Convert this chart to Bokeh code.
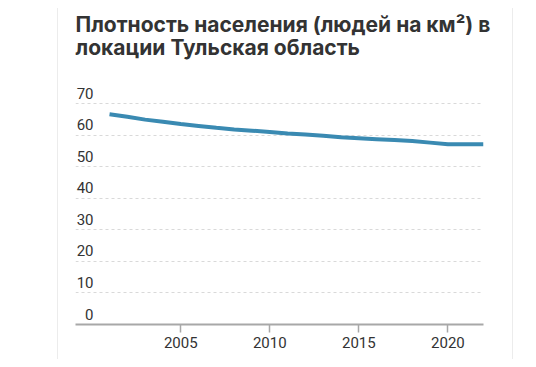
from bokeh.plotting import figure
from bokeh.models import FixedTicker, Range1d, Title
from bokeh.core.properties import value
from bokeh.embed import file_html
from bokeh.resources import INLINE

title_lines = ["Плотность населения (людей на км²) в", "локации Тульская область"]
years = list(range(2001, 2023))
density = [66.7, 65.9, 65.0, 64.3, 63.6, 63.0, 62.4, 61.9, 61.5, 61.1, 60.6,
           60.3, 59.9, 59.4, 59.1, 58.8, 58.5, 58.2, 57.7, 57.2, 57.2, 57.2]
y_ticks = [0, 10, 20, 30, 40, 50, 60, 70]
y_tick_labels = ["0", "10", "20", "30", "40", "50", "60", "70"]
x_ticks = [2005, 2010, 2015, 2020]

x_start, x_end = 1999.09, 2022.0

p = figure(width=456, height=351, output_backend="svg", toolbar_location=None,
           title=None,
           x_range=Range1d(x_start, x_end), y_range=Range1d(0, 85.66),
           min_border_left=17, min_border_right=31, min_border_bottom=35,
           min_border_top=0)
p.margin = (8, 0, 0, 57)
p.styles = {"border-left": "1px solid #ececec", "border-right": "1px solid #ececec"}
p.background_fill_color = "white"
p.border_fill_color = "white"
p.outline_line_color = None

title_standoffs = [2.6, -10.6]
for line, so in zip(reversed(title_lines), reversed(title_standoffs)):
    p.add_layout(Title(text=line, text_font="Inter", text_font_size="21px",
                       text_font_style="bold", text_color="#333333",
                       align="left", standoff=so), "above")

p.xgrid.visible = False
p.ygrid.ticker = FixedTicker(ticks=y_ticks)
p.ygrid.grid_line_color = "#d9d9d9"
p.ygrid.grid_line_dash = "3 3"
p.ygrid.grid_line_width = 1

p.yaxis.visible = False

p.xaxis.ticker = FixedTicker(ticks=x_ticks)
p.xaxis.axis_line_color = "#a8a8a8"
p.xaxis.axis_line_width = 2
p.xaxis.major_tick_line_color = "#a8a8a8"
p.xaxis.major_tick_line_width = 1.5
p.xaxis.major_tick_out = 8
p.xaxis.major_tick_in = 0
p.xaxis.minor_tick_line_color = None
p.xaxis.major_label_text_font = "Roboto"
p.xaxis.major_label_text_font_size = "15px"
p.xaxis.major_label_text_color = "#333333"
p.xaxis.major_label_standoff = 4

p.text(x=[x_start] * len(y_ticks), y=y_ticks, text=y_tick_labels,
       x_offset=18, y_offset=-10.5, text_align="right", text_baseline="middle",
       text_font=value("Roboto"), text_font_size=value("15px"), text_color="#333333")

p.line(years, density, line_color="#3a8ab2", line_width=4)

open("out.html", "w").write(file_html(p, INLINE))
